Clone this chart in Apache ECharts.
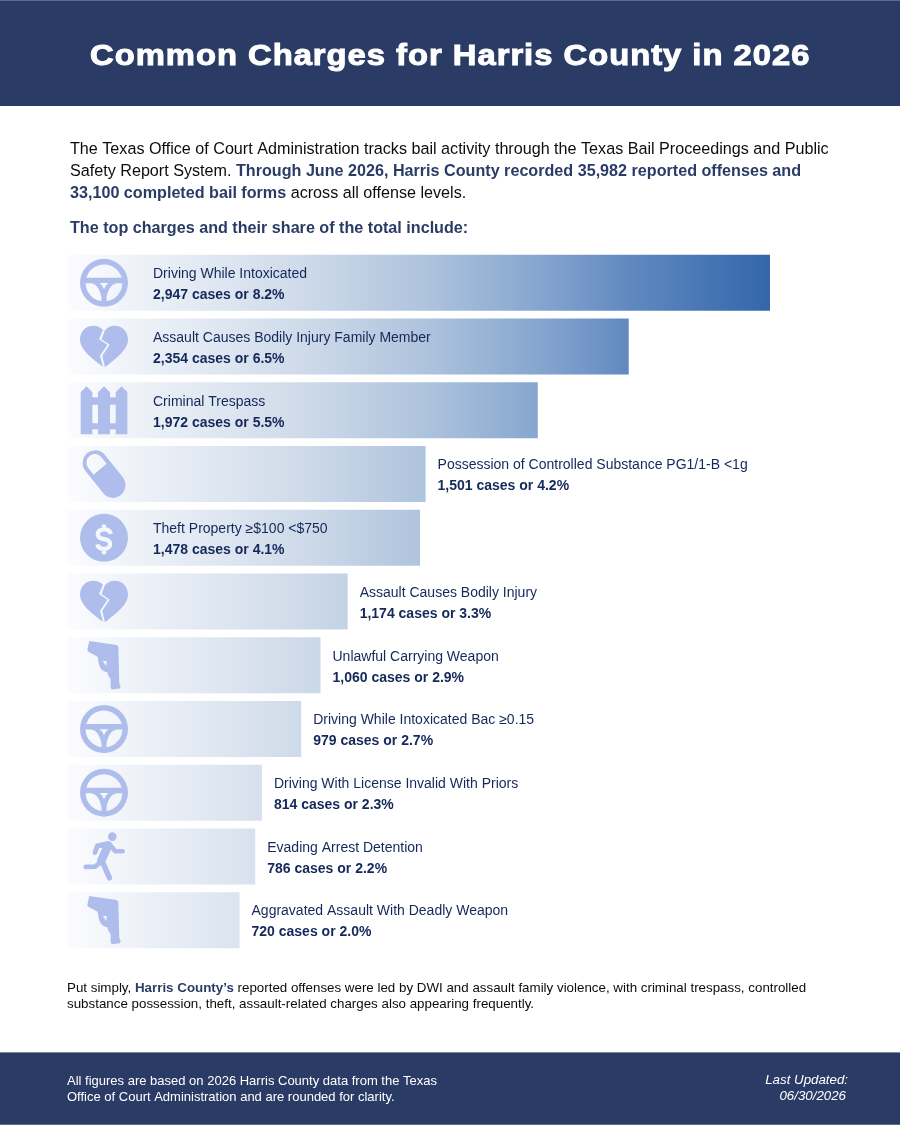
<!DOCTYPE html>
<html><head><meta charset="utf-8">
<style>html,body{margin:0;padding:0;background:#fff;overflow:hidden}#wrap{position:absolute;left:0;top:0;width:900px;height:1125px}#c{width:900px;height:1125px}
#t{position:absolute;left:90px;top:35px;margin:0;font:bold 29px/40px "Liberation Sans",Arial,sans-serif;color:#fff;letter-spacing:.87px;-webkit-text-stroke:1px #fff;transform-origin:0 50%;transform:scaleX(1.13);white-space:nowrap;z-index:5}</style>
<script src="https://cdn.jsdelivr.net/npm/echarts@6/dist/echarts.min.js"></script>
</head><body><div id="wrap"><div id="c"></div><h1 id="t">Common Charges for Harris County in 2026</h1></div>
<script>
const categories = ["Driving While Intoxicated","Assault Causes Bodily Injury Family Member","Criminal Trespass","Possession of Controlled Substance PG1/1-B <1g","Theft Property ≥$100 <$750","Assault Causes Bodily Injury","Unlawful Carrying Weapon","Driving While Intoxicated Bac ≥0.15","Driving With License Invalid With Priors","Evading Arrest Detention","Aggravated Assault With Deadly Weapon"];
const cases = [2947,2354,1972,1501,1478,1174,1060,979,814,786,720];
const shares = ["8.2","6.5","5.5","4.2","4.1","3.3","2.9","2.7","2.3","2.2","2.0"];
const iconNames = ["wheel","heart","fence","pill","dollar","heart","gun","wheel","wheel","runner","gun"];
const labelInside = [true,true,true,false,true,false,false,false,false,false,false];

function limb(p,w){let s='';const r=w/2;
  for(let i=0;i<p.length-1;i++){const [x1,y1]=p[i],[x2,y2]=p[i+1];const L=Math.hypot(x2-x1,y2-y1);const nx=-(y2-y1)/L*r,ny=(x2-x1)/L*r;
    s+=`M${x1+nx} ${y1+ny}L${x2+nx} ${y2+ny}A${r} ${r} 0 0 0 ${x2-nx} ${y2-ny}L${x1-nx} ${y1-ny}A${r} ${r} 0 0 0 ${x1+nx} ${y1+ny}Z`;}
  return s;}
function shrink(d,k){return d.replace(/-?[\d.]+/g,n=>(24+(parseFloat(n)-24)*k).toFixed(2));}
const DOLLAR_S='M34 19.3C33.4 13.9 29 12 24.5 12C18 12 14.6 15.5 14.6 20C14.6 25 19.2 27.4 23.7 27.9C27 28.4 28.6 29.3 28.6 31C28.6 32.7 26.8 34.1 24 34.1C21.2 34.1 19.2 33.1 18.9 31.1L14.1 31.8C14.9 36.6 18.9 38.9 24 38.9C29.4 38.9 33.4 35.6 33.4 31C33.4 26 29 23.6 24.3 23.1C21 22.7 19.4 21.6 19.4 20C19.4 18.4 21.1 16.9 24.5 16.9C26.9 16.9 28.8 17.9 29.2 19.9Z M21.6 12.1L26.4 12.1L26.4 9.5L25 8.8L23 8.8L21.6 9.5Z M21.6 38.8L21.6 42.3L23 43L25 43L26.4 42.3L26.4 38.8Z';
const ICONS = {
  wheel:{size:[48,48],left:80,path:'M24 0A24 24 0 1 1 24 48A24 24 0 1 1 24 0Z M41.7 19A18.4 18.4 0 0 0 6.3 19Z M5.61 24.5A18.4 18.4 0 0 0 21.5 42.23L21.5 39C20.8 33 17 24.5 11 24.5Z M26.5 42.23A18.4 18.4 0 0 0 42.39 24.5L37 24.5C31 24.5 27.2 33 26.5 39Z M19.5 24.2Q22.7 26 24 30.5Q25.3 26 28.5 24.2Z'},
  heart:{size:[48,41.5],left:80,path:'M23 4C20 1.5 17 0 13.5 0C5.5 0 0 6 0 14C0 24 12 33 23 41L20 30L27.5 19L19 13.3Z M25 4.3L21.5 13.3L29.7 19L22.3 30L25 41.5C35 33.5 48 24 48 14C48 6 42.5 0 34.5 0C31 0 27.8 1.5 25 4.3Z'},
  fence:{size:[46.7,48],left:80.7,path:'M0 6L5.85 0L11.7 6L11.7 11L17.3 11L17.3 6L23.3 0L29.3 6L29.3 11L35 11L35 6L40.85 0L46.7 6L46.7 48L35 48L35 43L29.3 43L29.3 48L17.3 48L17.3 43L11.7 43L11.7 48L0 48Z M11.7 18.5L11.7 37L17.3 37L17.3 18.5Z M29.3 18.5L29.3 37L35 37L35 18.5Z'},
  pill:{size:[42.7,47.7],left:82.7,path:'M22.2 5.5L40.2 27.2A12.3 12.3 0 0 1 21.2 42.8L3.2 21.1A12.3 12.3 0 0 1 22.2 5.5Z M19.1 8A8.3 8.3 0 0 0 6.3 18.6L11.4 24.8L24.2 14.2Z'},
  dollar:{size:[48,48],left:80,path:'M24 0A24 24 0 1 1 24 48A24 24 0 1 1 24 0Z '+shrink(DOLLAR_S,.88)},
  gun:{size:[33.4,48.3],left:87.3,path:'M2 0L29.3 4L31 5.7L32 42.3L33.4 45L32.7 47.3L24.3 48.3L23.3 45.7L23.3 38L20.6 34L20.3 31.5L17.7 30.7C15 29.5 13.5 28 12.5 25.5C11.5 23 10.8 19 10.3 15.7L1 10.7L0 9Z M15.5 20L19 25L19.4 20Z'},
  runner:{size:[41.7,48.3],left:83.3,path:'M33.33 4.33A4.33 4.33 0 0 0 24.67 4.33A4.33 4.33 0 0 0 33.33 4.33Z'+limb([[24.8,13],[18,28.5]],8.5)+limb([[25,11.2],[14,13.7],[11.7,20.3]],4.8)+limb([[26.7,12.7],[31.7,18.7],[39.4,19]],4.6)+limb([[18.3,29.3],[11.7,34.3],[2.4,34.7]],4.8)+limb([[18.3,27.7],[26.2,45.6]],5.4)}
};

const BODY='"Liberation Sans",Arial,sans-serif';
const NAVY='#2a3c66', INK='#14285a', ICON='#aebdec';
const chart=echarts.init(document.getElementById('c'),null,{renderer:'canvas',width:900,height:1125});
const LEFT=68,WIDTH=702;
const barFill=new echarts.graphic.LinearGradient(LEFT,0,LEFT+WIDTH,0,[
 {offset:0,color:'#fbfcfe'},{offset:.33,color:'#cfdbea'},{offset:.51,color:'#aec3dd'},{offset:.67,color:'#86a6cf'},{offset:.8,color:'#6189c0'},{offset:1,color:'#3366aa'}],true);

function line(x,y,text,size,o={}){
  return {type:'text',x,y:y+2,silent:true,z:10,style:{text,fill:o.fill||'#0c0c0c',font:`${o.italic?'italic ':''}${o.bold?'bold ':''}${size}px ${BODY}`,verticalAlign:'middle',align:o.align||'left',rich:o.rich}};
}
const rich16={b:{font:`bold 16.15px ${BODY}`,fill:NAVY},n:{font:`16.15px ${BODY}`,fill:'#0c0c0c'}};
const rich13={b:{font:`bold 13.35px ${BODY}`,fill:NAVY},n:{font:`13.35px ${BODY}`,fill:'#0c0c0c'}};
const graphic=[
 {type:'rect',shape:{x:0,y:0,width:900,height:106},style:{fill:NAVY},z:1,silent:true},
 {type:'rect',shape:{x:0,y:0,width:900,height:1},style:{fill:'#5c6b8c'},z:2,silent:true},
 {type:'rect',shape:{x:0,y:1052,width:900,height:73},style:{fill:NAVY},z:1,silent:true},
 {type:'rect',shape:{x:0,y:1052,width:900,height:1},style:{fill:'#7f8aa4'},z:2,silent:true},
 {type:'rect',shape:{x:0,y:1124,width:900,height:1},style:{fill:'#5c6b8c'},z:2,silent:true},
 line(70,148,'The Texas Office of Court Administration tracks bail activity through the Texas Bail Proceedings and Public',16.15),
 line(70,170,'{n|Safety Report System. }{b|Through June 2026, Harris County recorded 35,982 reported offenses and}',16.15,{rich:rich16}),
 line(70,192,'{b|33,100 completed bail forms}{n| across all offense levels.}',16.15,{rich:rich16}),
 line(70,227,'The top charges and their share of the total include:',16.15,{bold:true,fill:NAVY}),
 line(67,986,"{n|Put simply, }{b|Harris County’s}{n| reported offenses were led by DWI and assault family violence, with criminal trespass, controlled}",13.35,{rich:rich13}),
 line(67,1002.5,'substance possession, theft, assault-related charges also appearing frequently.',13.35),
 line(67,1079.5,'All figures are based on 2026 Harris County data from the Texas',13,{fill:'#fff'}),
 line(67,1095.5,'Office of Court Administration and are rounded for clarity.',13,{fill:'#fff'}),
 line(848,1078.5,'Last Updated:',13.3,{fill:'#fff',italic:true,align:'right'}),
 line(846,1094.5,'06/30/2026',13.3,{fill:'#fff',italic:true,align:'right'})
];

chart.setOption({
 animation:false,
 backgroundColor:'#ffffff',
 graphic,
 grid:{left:LEFT,top:251,width:WIDTH,height:701,containLabel:false},
 xAxis:{type:'value',min:0,max:cases[0],show:false},
 yAxis:{type:'category',inverse:true,data:categories,show:false},
 series:[
  {type:'bar',barWidth:56,silent:true,z:2,
   itemStyle:{color:barFill},
   data:cases.map((v,i)=>({value:v,label:{
     show:true,
     position:labelInside[i]?'insideLeft':'right',
     distance:labelInside[i]?85:12,
     offset:[0,2],
     formatter:`{n|${categories[i]}}\n{v|${v.toLocaleString('en-US')} cases or ${shares[i]}%}`,
     rich:{n:{fontFamily:BODY,fontSize:14,color:INK,lineHeight:21},v:{fontFamily:BODY,fontSize:14,fontWeight:'bold',color:INK,lineHeight:21}}
   }}))},
  {type:'pictorialBar',silent:true,z:3,barWidth:56,symbolPosition:'start',
   itemStyle:{color:ICON},
   data:cases.map((v,i)=>{const ic=ICONS[iconNames[i]];return {value:v,symbol:'path://'+ic.path,symbolSize:ic.size,symbolOffset:[ic.left-LEFT,0]};})}
 ]
});
</script></body></html>
